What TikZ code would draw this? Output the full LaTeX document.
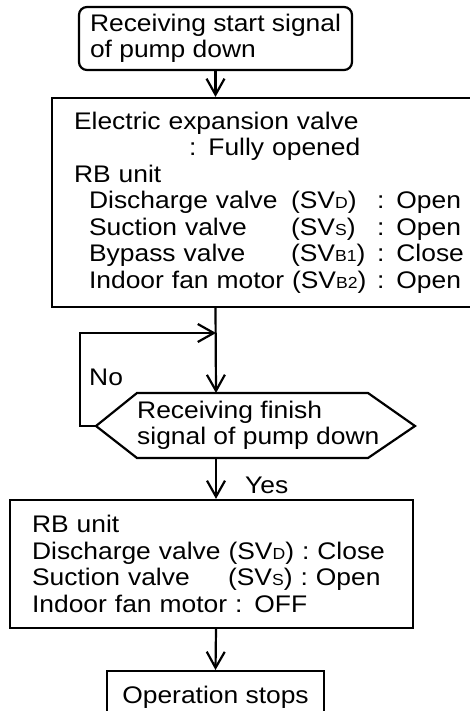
\documentclass[tikz,border=0pt]{standalone}
\usepackage{fontspec}
\setmainfont{Liberation Sans}[FakeStretch=1.1]
\usetikzlibrary{arrows.meta, positioning}
\newcommand{\svsub}[1]{{\fontsize{16}{16}\selectfont #1}}

\begin{document}
\begin{tikzpicture}[x=1pt, y=-1pt,
  >={Straight Barb[length=16pt, width=18pt]},
  every node/.style={font=\fontsize{24}{26.5}\selectfont, inner sep=0pt},
  flow/.style={draw, line width=2.2pt},
  startbox/.style={flow, rounded corners=8pt, align=left, minimum width=273pt, minimum height=63pt},
  actbox/.style={flow, align=left, anchor=west, inner xsep=22pt},
  lbl/.style={anchor=base west}
]
\useasboundingbox (0,0) rectangle (469,711);

% start of pump down
\node[startbox] (start) at (215.5,38.5) {Receiving start signal\\of pump down};

\node[actbox, text width=400pt, minimum height=209pt] (act1) at (51,202.5) {%
  Electric expansion valve\\
  \hspace*{115pt}: Fully opened\\
  RB unit\\
  \hspace*{15pt}\makebox[202pt][l]{Discharge valve}\makebox[86pt][l]{(SV\svsub{D})}: Open\\
  \hspace*{15pt}\makebox[202pt][l]{Suction valve}\makebox[86pt][l]{(SV\svsub{S})}: Open\\
  \hspace*{15pt}\makebox[202pt][l]{Bypass valve}\makebox[86pt][l]{(SV\svsub{B1})}: Close\\
  \hspace*{15pt}\makebox[288pt][l]{Indoor fan motor (SV\svsub{B2})}: Open};

% decision
\coordinate (join) at (216,333);
\coordinate (decT) at (216,393);
\coordinate (decB) at (216,458);
\coordinate (decL) at (96,426);
\draw[flow] (decL) -- (137,393) -- (368,393) -- (415,426) -- (368,458) -- (137,458) -- cycle;
\node[align=left, anchor=west] (dec) at (137,425.5) {Receiving finish\\signal of pump down};

\node[actbox, text width=359pt, minimum height=128pt] (act2) at (9,564) {%
  RB unit\\
  \mbox{Discharge valve (SV\svsub{D}) : Close}\\
  \mbox{\makebox[196pt][l]{Suction valve}(SV\svsub{S}) : Open}\\
  Indoor fan motor : OFF};

\node[flow, anchor=north, minimum width=217pt, inner ysep=13pt, text height=19pt, text depth=40pt] (stop) at (215.5,670) {Operation stops};

% connectors
\draw[flow, ->] (start.south) -- (start.south |- act1.north);
\draw[flow, ->] (start.south |- act1.south) -- (decT);
\draw[flow, ->] (decL) -- ++(-16,0) |- (join);
\node[lbl] (no) at (89,385) {No};
\draw[flow, ->] (decB) -- (decB |- act2.north);
\node[lbl] (yes) at (245,493) {Yes};
\draw[flow, ->] (act2.south -| decB) -- (stop.north);
\end{tikzpicture}
\end{document}
